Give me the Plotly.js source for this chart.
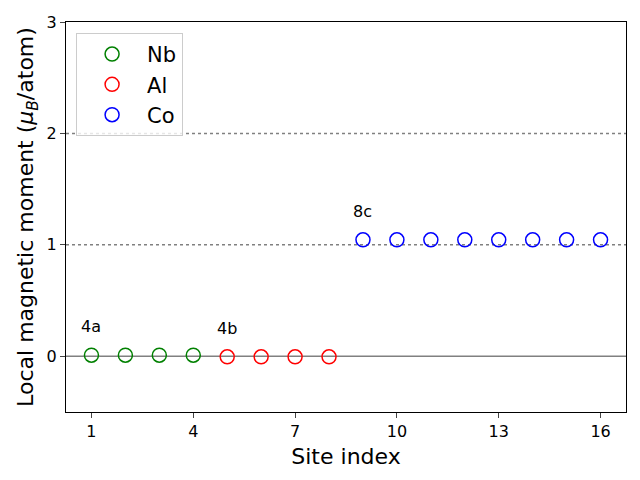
<!DOCTYPE html>
<html><head><meta charset="utf-8">
<script src="https://cdn.plot.ly/plotly-3.0.1.min.js"></script>
<style>body{margin:0}#c{width:640px;height:480px}</style>
</head><body><div id="c"></div>
<script>
const nbX = [1, 2, 3, 4];
const nbY = [0.01, 0.01, 0.01, 0.01];
const alX = [5, 6, 7, 8];
const alY = [-0.005, -0.005, -0.005, -0.005];
const coX = [9, 10, 11, 12, 13, 14, 15, 16];
const coY = [1.045, 1.045, 1.045, 1.045, 1.045, 1.045, 1.045, 1.045];
const siteLabels = ["4a", "4b", "8c"];
const tickVals = [1, 4, 7, 10, 13, 16];
const refLevels = [1, 2];

const font = "DejaVu Sans, sans-serif";
function mk(name, x, y, color) {
  return {x: x, y: y, name: name, type: "scatter", mode: "markers",
    marker: {symbol: "circle-open", size: 14, color: color, line: {width: 1.5, color: color}}};
}
const data = [mk("Nb", nbX, nbY, "green"), mk("Al", alX, alY, "red"), mk("Co", coX, coY, "blue")];

const shapes = [{type: "line", xref: "paper", x0: 0, x1: 1, y0: 0, y1: 0, line: {color: "gray", width: 1.5}, layer: "below"}];
refLevels.forEach(v => shapes.push({type: "line", xref: "paper", x0: 0, x1: 1, y0: v, y1: v,
  line: {color: "gray", width: 1.5, dash: "dot"}, layer: "below"}));

const groups = [[nbX, nbY], [alX, alY], [coX, coY]];
const annotations = groups.map((g, i) => ({x: g[0][0] - 0.3, y: g[1][0] + 0.2, text: siteLabels[i],
  showarrow: false, xanchor: "left", yanchor: "bottom", yshift: -5, xshift: -2,
  font: {size: 16, color: "black", family: font}}));

const layout = {
  width: 640, height: 480, margin: {l: 66, r: 14, t: 22, b: 68},
  paper_bgcolor: "white", plot_bgcolor: "white",
  font: {family: font, color: "black"},
  showlegend: true,
  legend: {x: 0.018, y: 0.972, xanchor: "left", yanchor: "top", bordercolor: "#cccccc", borderwidth: 1,
    bgcolor: "rgba(255,255,255,0.8)", font: {size: 21, family: font}, itemwidth: 60},
  xaxis: {range: [0.25, 16.75], tickvals: tickVals, ticks: "outside", ticklen: 5, tickwidth: 1,
    showgrid: false, zeroline: false, showline: true, mirror: true, linecolor: "black", linewidth: 1,
    tickfont: {size: 16, family: font},
    title: {text: "Site index", font: {size: 22, family: font}, standoff: 8}},
  yaxis: {range: [-0.5, 3], tickvals: [0, 1, 2, 3], ticks: "outside", ticklen: 5, tickwidth: 1,
    showgrid: false, zeroline: false, showline: true, mirror: true, linecolor: "black", linewidth: 1,
    tickfont: {size: 16, family: font},
    title: {text: "Local magnetic moment (<i>μ<sub>B</sub></i>/atom)", font: {size: 22, family: font}, standoff: 6}},
  shapes: shapes, annotations: annotations
};
Plotly.newPlot("c", data, layout, {displayModeBar: false});
</script></body></html>
